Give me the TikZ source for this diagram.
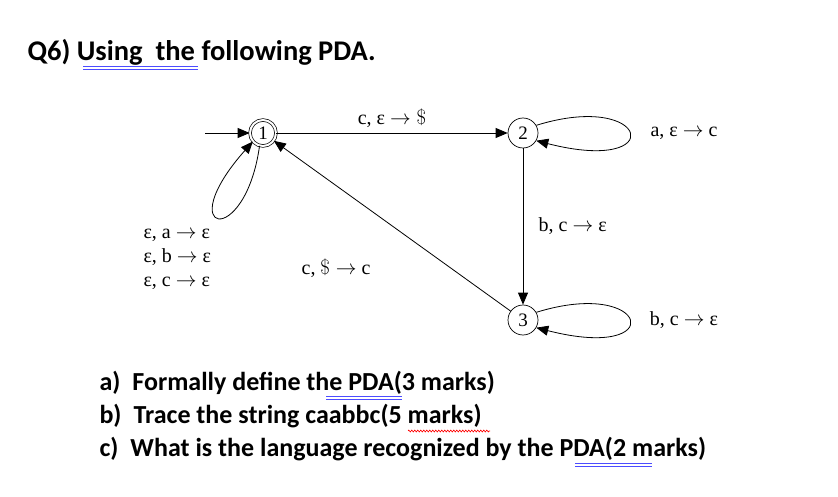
\documentclass[tikz,border=0pt]{standalone}
\usepackage{fontspec}
\setmainfont{Carlito}
\newfontfamily\serf{Liberation Serif}
\usetikzlibrary{arrows.meta,decorations.pathmorphing}
\begin{document}
\begin{tikzpicture}[x=1pt,y=-1pt,
  st/.style={draw,circle,inner sep=0pt,minimum size=30pt,line width=0.7pt,font=\serf\fontsize{19}{19}\selectfont},
  acc/.style={st,double,double distance=2pt,minimum size=26pt},
  tr/.style={-{Triangle[length=12pt,width=10pt]},line width=0.8pt},
  lab/.style={font=\serf\fontsize{20}{20}\selectfont},
  txt/.style={anchor=west,font=\bfseries\fontsize{26}{26}\selectfont},
  ul/.style={blue!70!white,line width=0.8pt}]
\path[fill=white] (0,0) rectangle (838,497);
\node[txt,font=\bfseries\fontsize{28.5}{28.5}\selectfont] (h) at (24,52) {Q6) Using \ the following PDA.};
\draw[ul] (83,66)--(198,66) (83,69)--(198,69);
\node[acc] (q1) at (263,133) {1};
\node[st] (q2) at (523,133) {2};
\node[st] (q3) at (523,320) {3};
\coordinate (s) at (205,133);
\draw[tr] (s) -- (q1);
\draw[tr] (q1) -- node[lab,above=2pt]{c, ε $\rightarrow\$$} (q2);
\draw[tr] (q2) -- node[lab,right=12pt]{b, c $\rightarrow$ ε} (q3);
\draw[tr] (q3) -- (q1);
\draw[tr] (q1.-105) .. controls (245,250) and (170,235) .. (q1.-140);
\draw[tr] (q2.30) .. controls (650,90) and (670,175) .. (q2.-30);
\draw[tr] (q3.30) .. controls (650,277) and (670,362) .. (q3.-30);
\node[lab] (l1) at (336,268) {c, $\$\rightarrow$ c};
\node[lab] (l2) at (684,133) {a, ε $\rightarrow$ c};
\node[lab] (l3) at (684,320) {b, c $\rightarrow$ ε};
\node[lab,align=left,anchor=north west] (l4) at (140,226) {ε, a $\rightarrow$ ε\\[4pt]ε, b $\rightarrow$ ε\\[4pt]ε, c $\rightarrow$ ε};
\node[txt] (a) at (96,383) {a)\hspace{12pt}Formally define the PDA(3 marks)};
\node[txt] (b) at (96,416) {b)\hspace{12pt}Trace the string caabbc(5 marks)};
\node[txt] (c) at (96,449) {c)\hspace{12pt}What is the language recognized by the PDA(2 marks)};
\draw[ul] (326,396)--(402,396) (326,399)--(402,399);
\draw[red,line width=0.6pt,decorate,decoration={zigzag,amplitude=1pt,segment length=3pt}] (408,431)--(490,431);
\draw[ul] (575,463)--(652,463) (575,466)--(652,466);
\end{tikzpicture}
\end{document}
